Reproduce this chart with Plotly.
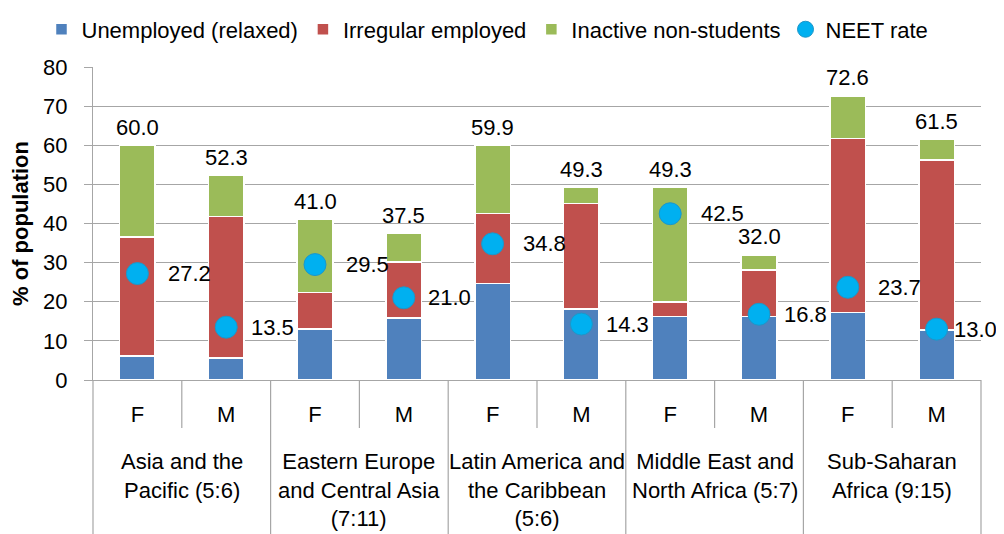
import plotly.graph_objects as go

# ---- data ----
regions = [
    "Asia and the<br>Pacific (5:6)",
    "Eastern Europe<br>and Central Asia<br>(7:11)",
    "Latin America and<br>the Caribbean<br>(5:6)",
    "Middle East and<br>North Africa (5:7)",
    "Sub-Saharan<br>Africa (9:15)",
]
sexes = ["F", "M", "F", "M", "F", "M", "F", "M", "F", "M"]
unemployed = [6.1, 5.6, 13.0, 15.8, 24.7, 18.1, 16.2, 16.2, 17.2, 12.8]
irregular = [30.4, 36.2, 9.4, 14.3, 17.9, 27.0, 3.8, 11.9, 44.5, 43.4]
inactive = [23.5, 10.5, 18.6, 7.4, 17.3, 4.2, 29.3, 3.9, 10.9, 5.3]
totals = [60.0, 52.3, 41.0, 37.5, 59.9, 49.3, 49.3, 32.0, 72.6, 61.5]
neet = [27.2, 13.5, 29.5, 21.0, 34.8, 14.3, 42.5, 16.8, 23.7, 13.0]
y_ticks = [0, 10, 20, 30, 40, 50, 60, 70, 80]

FONT = "Liberation Sans, Arial, sans-serif"
FS = 22
GRID = "#A6A6A6"
n = len(sexes)
xpos = list(range(n))

fig = go.Figure()
bar_line = dict(color="white", width=1.5)
fig.add_trace(go.Bar(x=xpos, y=unemployed, name="Unemployed (relaxed)",
                     marker=dict(color="#4F81BD", line=bar_line)))
fig.add_trace(go.Bar(x=xpos, y=irregular, name="Irregular employed",
                     marker=dict(color="#C0504D", line=bar_line)))
fig.add_trace(go.Bar(x=xpos, y=inactive, name="Inactive non-students",
                     marker=dict(color="#9BBB59", line=bar_line)))
fig.add_trace(go.Scatter(x=xpos, y=neet, name="NEET rate", mode="markers",
                         marker=dict(color="#00B0F0", size=22,
                                     line=dict(color="#1E96C8", width=1))))

annotations = []
for i in range(n):
    annotations.append(dict(x=xpos[i], y=totals[i], xref="x", yref="y",
                            text=f"{totals[i]:.1f}", showarrow=False,
                            yanchor="middle", yshift=18,
                            font=dict(family=FONT, size=FS, color="black")))
    if sexes[i] == "F":
        dx = 52
    elif i == n - 1:
        dx = 39  # keep the last label inside the figure edge
    else:
        dx = 46
    annotations.append(dict(x=xpos[i], y=neet[i], xref="x", yref="y",
                            text=f"{neet[i]:.1f}", showarrow=False,
                            xanchor="center", yanchor="middle", xshift=dx,
                            font=dict(family=FONT, size=FS, color="black")))

# the page body adds an 8px offset; the figure is sized to fit the window and
# margins place the plot area at x 93..981, y 67..380 of the window
W, H = 996, 526
L, R, T, B = 85, 23, 59, 154
plot_h = H - T - B

groups = len(regions)
for g in range(groups):
    annotations.append(dict(x=(2 * g + 1) / n, y=0, xref="paper", yref="paper",
                            text=regions[g], showarrow=False,
                            xanchor="center", yanchor="top", yshift=-67,
                            align="center",
                            font=dict(family=FONT, size=FS, color="black")))

shapes = []
for k in range(n + 1):
    if k % 2 == 0:
        y1 = -B / plot_h
    else:
        y1 = -48 / plot_h
    shapes.append(dict(type="line", xref="paper", yref="paper",
                       x0=k / n, x1=k / n, y0=0, y1=y1,
                       line=dict(color=GRID, width=1.2)))

fig.update_layout(
    width=W, height=H,
    margin=dict(l=L, r=R, t=T, b=B, autoexpand=False),
    barmode="stack", bargap=0.6,
    plot_bgcolor="white", paper_bgcolor="white",
    font=dict(family=FONT, size=FS, color="black"),
    showlegend=True,
    legend=dict(orientation="h", x=-0.058, xanchor="left", y=1.12,
                yanchor="middle", font=dict(family=FONT, size=FS, color="black"),
                bgcolor="rgba(0,0,0,0)", traceorder="normal"),
    annotations=annotations,
    shapes=shapes,
    xaxis=dict(range=[-0.5, n - 0.5], tickvals=xpos, ticktext=sexes,
               showline=True, linecolor=GRID, linewidth=1.2,
               ticks="", showgrid=False, zeroline=False,
               tickfont=dict(family=FONT, size=FS, color="black"),
               ticklabelstandoff=14, fixedrange=True, automargin=False),
    yaxis=dict(range=[0, 80], tickvals=y_ticks,
               showline=True, linecolor=GRID, linewidth=1.2,
               ticks="outside", ticklen=8, tickcolor=GRID, tickwidth=1.2,
               showgrid=True, gridcolor=GRID, gridwidth=1.2, zeroline=False,
               tickfont=dict(family=FONT, size=FS, color="black"),
               ticklabelstandoff=12, automargin=False,
               title=dict(text="<b>% of population</b>", standoff=17,
                          font=dict(family=FONT, size=FS, color="black"))),
)

fig.write_html("out.html")
